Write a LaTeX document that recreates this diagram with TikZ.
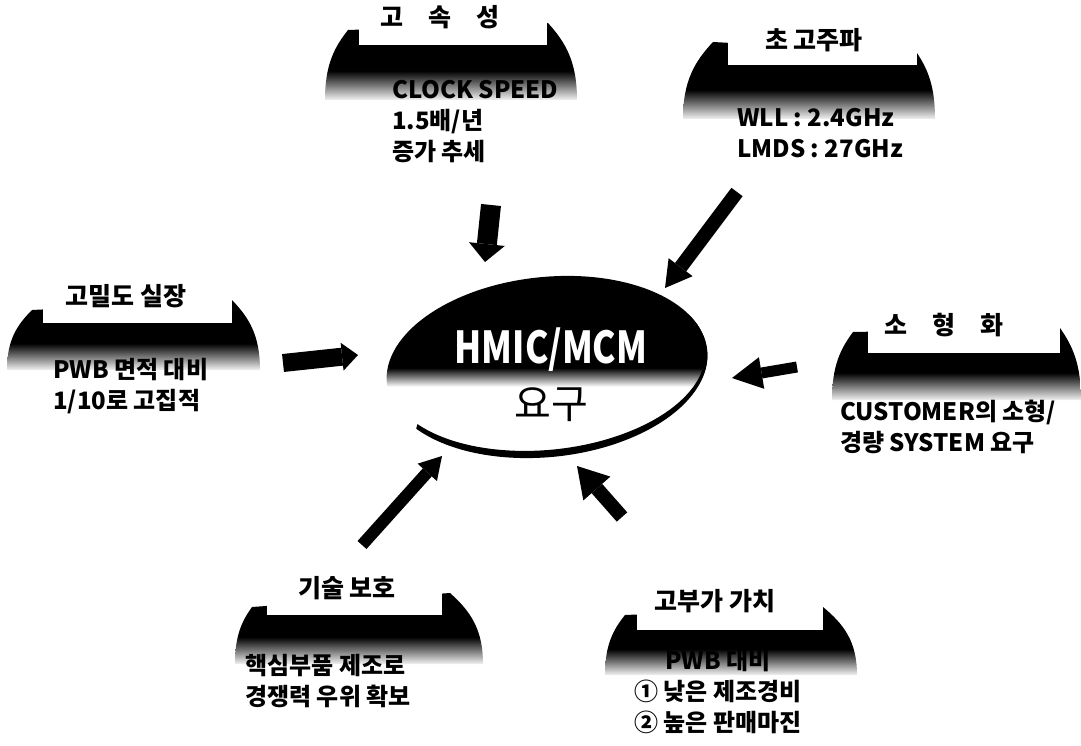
\documentclass[tikz,border=0pt]{standalone}
\usepackage{fontspec}
\setmainfont{Noto Sans CJK KR}
\usetikzlibrary{arrows.meta}

\pgfdeclareverticalshading{bannerfade}{100bp}{color(0bp)=(white); color(24bp)=(white); color(44bp)=(black); color(100bp)=(black)}
\pgfdeclareverticalshading{corefade}{100bp}{color(0bp)=(white); color(46bp)=(white); color(51bp)=(black); color(100bp)=(black)}

% 배너: 왼쪽 x, 왼쪽 끝 x, y, 오른쪽 끝 x, y, 오른쪽 x, 아래 y
\newcommand{\banner}[7]{%
  \shade[shading=bannerfade] (#2,#3) .. controls ({#2-0.6*(#2-#1)},{#3+0.25*(#7-#3)}) and (#1,{#7-0.5*(#7-#3)}) .. (#1,#7)
    -- (#6,#7) .. controls (#6,{#7-0.5*(#7-#5)}) and ({#4+0.6*(#6-#4)},{#5+0.25*(#7-#5)}) .. (#4,#5) -- cycle;}

\tikzset{
  ttl/.style={font=\bfseries\fontsize{25}{28}\selectfont, inner sep=0pt},
  body/.style={font=\bfseries\fontsize{24}{31}\selectfont, align=left, anchor=north west, inner sep=0pt},
  push/.style n args={3}{line width=#1, -{Triangle[width=#2, length=#3, line width=0pt]}}
}

\begin{document}
\begin{tikzpicture}[x=1pt,y=-1pt]
  \useasboundingbox (0,0) rectangle (1081,746);

  % 배너
  \banner{325}{348}{30}{548}{23}{577}{100}
  \fill[white] (359,0) rectangle (547,45);
  \banner{683}{713}{42}{917}{53}{935}{119}
  \fill[white] (728,0) rectangle (917,65);
  \banner{7}{32}{310}{232}{300}{260}{370}
  \fill[white] (43,280) rectangle (232,323);
  \banner{832}{853}{332}{1060}{328}{1081}{400}
  \fill[white] (868,300) rectangle (1060,353);
  \banner{235}{252}{607}{450}{593}{483}{664}
  \fill[white] (267,570) rectangle (442,615);
  \banner{605}{625}{615}{823}{607}{857}{675}
  \fill[white] (637,580) rectangle (823,630);

  % 가운데 타원
  \begin{scope}[shift={(547,367)}, rotate=6]
    \shade[shading=corefade] (0,0) ellipse [x radius=161, y radius=90];
    \fill (148:161 and 90) arc[start angle=148, end angle=-25, x radius=161, y radius=90]
      -- (-25:159 and 87) arc[start angle=-25, end angle=148, x radius=159, y radius=84] -- cycle;
  \end{scope}
  \node[font=\bfseries\fontsize{44}{46}\selectfont, text=white] (hmic) at (551,350) {\scalebox{0.8}[1]{HMIC/MCM}};
  \node[font=\fontsize{40}{44}\selectfont] (req) at (551,405) {요구};

  \node[ttl] (speedT) at (440,17) {고\quad 속\quad 성};
  \node[ttl] (freqT) at (814,40) {초 고주파};
  \node[ttl] (densT) at (126,296) {고밀도 실장};
  \node[ttl] (sizeT) at (944,325) {소\quad 형\quad 화};
  \node[ttl] (techT) at (347,588) {기술 보호};
  \node[ttl] (valueT) at (715,601) {고부가 가치};

  \node[body] (speedB) at (392,80) {CLOCK SPEED\\1.5배/년\\증가 추세};
  \node[body] (freqB) at (737,108) {WLL : 2.4GHz\\LMDS : 27GHz};
  \node[body] (densB) at (53,358) {PWB 면적 대비\\1/10로 고집적};
  \node[body] (sizeB) at (840,400) {CUSTOMER의 소형/\\경량 SYSTEM 요구};
  \node[body] (techB) at (245,654) {핵심부품 제조로\\경쟁력 우위 확보};
  \node[body, align=center, anchor=north] (valueB) at (718,649) {PWB 대비\\① 낮은 제조경비\\② 높은 판매마진};

  % 화살표
  \coordinate (speedS) at (491,205); \coordinate (speedE) at (485,262);
  \coordinate (freqS) at (737,192);  \coordinate (freqE) at (665,288);
  \coordinate (densS) at (283,363);  \coordinate (densE) at (358,355);
  \coordinate (sizeS) at (797,367);  \coordinate (sizeE) at (732,378);
  \coordinate (techS) at (362,545);  \coordinate (techE) at (442,456);
  \coordinate (valueS) at (622,517); \coordinate (valueE) at (577,466);

  \draw[push={20pt}{36pt}{18pt}] (speedS) -- (speedE);
  \draw[push={14pt}{30pt}{26pt}] (freqS) -- (freqE);
  \draw[push={18pt}{28pt}{16pt}] (densS) -- (densE);
  \draw[push={11pt}{32pt}{30pt}] (sizeS) -- (sizeE);
  \draw[push={12pt}{26pt}{22pt}] (techS) -- (techE);
  \draw[push={14pt}{36pt}{30pt}] (valueS) -- (valueE);
\end{tikzpicture}
\end{document}
